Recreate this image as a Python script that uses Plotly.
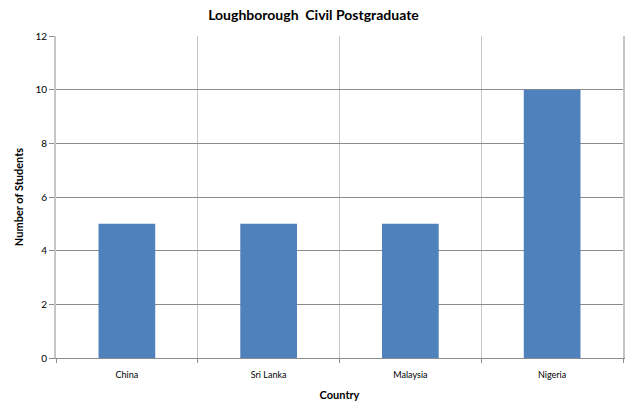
import plotly.graph_objects as go

countries = ["China", "Sri Lanka", "Malaysia", "Nigeria"]
students = [5, 5, 5, 10]
y_ticks = [0, 2, 4, 6, 8, 10, 12]

font_family = "Lato, 'Open Sans', sans-serif"

fig = go.Figure(go.Bar(
    x=countries, y=students,
    marker=dict(color="#4f81bd", line=dict(width=0)),
))

fig.update_layout(
    width=627, height=404,
    margin=dict(l=56, r=2, t=36, b=46),
    paper_bgcolor="white", plot_bgcolor="white",
    bargap=0.6,
    showlegend=False,
    font=dict(family=font_family, color="#000000"),
    title=dict(text="<b>Loughborough  Civil Postgraduate</b>", x=0.5, xanchor="center",
               y=0.963, yanchor="middle", font=dict(size=14, family=font_family)),
)

fig.update_xaxes(
    type="category",
    tickson="boundaries",
    showgrid=True, gridcolor="#c6c6c6", gridwidth=1,
    ticks="outside", ticklen=4, tickcolor="#8c8c8c",
    showline=True, linecolor="#8c8c8c", linewidth=1,
    tickfont=dict(size=9),
    ticklabelstandoff=8,
    title=dict(text="<b>Country</b>", font=dict(size=11), standoff=12),
)
fig.update_yaxes(
    range=[0, 12],
    tickvals=y_ticks,
    showgrid=True, gridcolor="#8c8c8c", gridwidth=1,
    ticks="outside", ticklen=5, tickcolor="#8c8c8c",
    showline=True, linecolor="#c6c6c6", linewidth=2, mirror=True,
    zeroline=False,
    tickfont=dict(size=10),
    title=dict(text="<b>Number of Students</b>", font=dict(size=11), standoff=10),
)

fig.write_html(
    "out.html",
    config={"displayModeBar": False},
    post_script="document.body.style.margin='0';document.body.style.overflow='hidden';",
)
